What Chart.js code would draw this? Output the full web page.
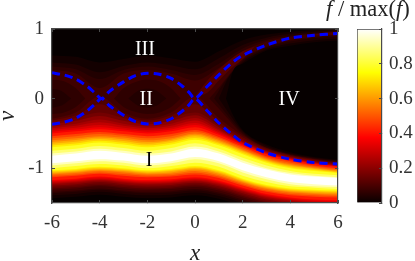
<!DOCTYPE html>
<html>
<head>
<meta charset="utf-8">
<style>
  html, body { margin: 0; padding: 0; background: #fff; }
  #wrap { position: relative; width: 415px; height: 261px; overflow: hidden; }
  canvas { position: absolute; left: 0; top: 0; }
</style>
<script src="https://cdn.jsdelivr.net/npm/chart.js@4/dist/chart.umd.min.js"></script>
</head>
<body>
<div id="wrap">
  <canvas id="phase" width="415" height="261"></canvas>
  <canvas id="bar" width="415" height="261"></canvas>
</div>
<script>
// --- Axis values ---
const xTicks = [-6, -4, -2, 0, 2, 4, 6];
const vTicks = [-1, 0, 1];
const barTicks = [0, 0.2, 0.4, 0.6, 0.8, 1];

// --- Contours of f at these x columns ---
const xCols = [-6, -5, -4, -3, -2, -1, 0, 1, 2, 3, 4, 5, 6];

// faint glow around the separatrix and band I
const top012 = [0.62, 0.6, 0.52, 0.57, 0.62, 0.58, 0.53, 0.68, 0.84, 0.92, 0.96, 0.99, 1.0];
const bot012 = [-1.43, -1.41, -1.38, -1.41, -1.43, -1.42, -1.39, -1.44, -1.54, -1.6, -1.6, -1.6, -1.6];
const top03 = [0.52, 0.49, 0.38, 0.47, 0.52, 0.48, 0.42, 0.58, 0.77, 0.875, 0.93, 0.96, 0.985];
const bot03 = [-1.39, -1.37, -1.34, -1.37, -1.39, -1.38, -1.35, -1.4, -1.5, -1.59, -1.6, -1.6, -1.6];
const top05 = [0.46, 0.42, 0.28, 0.41, 0.46, 0.41, 0.34, 0.5, 0.72, 0.845, 0.905, 0.94, 0.97];
const bot05 = [-1.36, -1.34, -1.31, -1.34, -1.36, -1.35, -1.32, -1.37, -1.47, -1.56, -1.6, -1.6, -1.6];
const top07 = [0.41, 0.36, 0.15, 0.36, 0.41, 0.36, 0.26, 0.44, 0.68, 0.82, 0.89, 0.93, 0.955];
const bot07 = [-1.34, -1.32, -1.29, -1.32, -1.34, -1.33, -1.3, -1.35, -1.45, -1.54, -1.6, -1.6, -1.6];

// band I, from its outer edge to the white core
const top10 = [-0.29, -0.2, 0.03, -0.2, -0.29, -0.2, 0.03, -0.28, -0.53, -0.71, -0.81, -0.87, -0.92];
const bot10 = [-1.31, -1.29, -1.26, -1.29, -1.31, -1.3, -1.27, -1.32, -1.42, -1.51, -1.56, -1.59, -1.6];
const top125 = [-0.315, -0.24, -0.08, -0.24, -0.315, -0.24, -0.08, -0.33, -0.555, -0.725, -0.82, -0.88, -0.93];
const bot125 = [-1.29, -1.27, -1.24, -1.27, -1.29, -1.28, -1.25, -1.3, -1.4, -1.49, -1.54, -1.57, -1.58];
const top15 = [-0.34, -0.28, -0.2, -0.28, -0.34, -0.28, -0.2, -0.38, -0.58, -0.74, -0.83, -0.89, -0.94];
const bot15 = [-1.27, -1.25, -1.22, -1.25, -1.27, -1.26, -1.23, -1.28, -1.38, -1.47, -1.52, -1.55, -1.56];
const top185 = [-0.37, -0.32, -0.25, -0.32, -0.37, -0.32, -0.24, -0.41, -0.6, -0.75, -0.84, -0.9, -0.95];
const bot185 = [-1.25, -1.23, -1.2, -1.23, -1.25, -1.24, -1.21, -1.26, -1.36, -1.45, -1.5, -1.53, -1.54];
const top22 = [-0.4, -0.36, -0.3, -0.36, -0.4, -0.36, -0.28, -0.44, -0.62, -0.76, -0.85, -0.91, -0.96];
const bot22 = [-1.23, -1.21, -1.18, -1.21, -1.23, -1.22, -1.19, -1.24, -1.34, -1.43, -1.48, -1.51, -1.52];
const top26 = [-0.425, -0.39, -0.34, -0.39, -0.425, -0.39, -0.315, -0.46, -0.63, -0.77, -0.857, -0.917, -0.965];
const bot26 = [-1.215, -1.195, -1.165, -1.195, -1.215, -1.205, -1.175, -1.225, -1.325, -1.415, -1.465, -1.495, -1.505];
const top30 = [-0.45, -0.42, -0.38, -0.42, -0.45, -0.42, -0.35, -0.48, -0.64, -0.78, -0.865, -0.925, -0.97];
const bot30 = [-1.2, -1.18, -1.15, -1.18, -1.2, -1.19, -1.16, -1.21, -1.31, -1.4, -1.45, -1.48, -1.49];
const top34 = [-0.475, -0.445, -0.41, -0.445, -0.475, -0.445, -0.38, -0.5, -0.655, -0.79, -0.872, -0.932, -0.975];
const bot34 = [-1.185, -1.165, -1.135, -1.165, -1.185, -1.175, -1.145, -1.195, -1.295, -1.385, -1.435, -1.465, -1.475];
const top375 = [-0.5, -0.47, -0.44, -0.47, -0.5, -0.47, -0.41, -0.52, -0.67, -0.8, -0.88, -0.94, -0.98];
const bot375 = [-1.17, -1.15, -1.12, -1.15, -1.17, -1.16, -1.13, -1.18, -1.28, -1.37, -1.42, -1.45, -1.46];
const top45 = [-0.54, -0.51, -0.48, -0.51, -0.54, -0.51, -0.45, -0.55, -0.69, -0.83, -0.9, -0.96, -1.0];
const bot45 = [-1.13, -1.11, -1.08, -1.11, -1.13, -1.12, -1.09, -1.14, -1.25, -1.34, -1.39, -1.41, -1.42];
const top50 = [-0.57, -0.54, -0.51, -0.535, -0.57, -0.54, -0.475, -0.57, -0.71, -0.845, -0.92, -0.975, -1.015];
const bot50 = [-1.11, -1.09, -1.06, -1.085, -1.11, -1.1, -1.065, -1.12, -1.23, -1.32, -1.37, -1.39, -1.4];
const top55 = [-0.6, -0.57, -0.54, -0.56, -0.6, -0.57, -0.5, -0.59, -0.73, -0.86, -0.94, -0.99, -1.03];
const bot55 = [-1.09, -1.07, -1.04, -1.06, -1.09, -1.08, -1.04, -1.1, -1.21, -1.3, -1.35, -1.37, -1.38];
const top60 = [-0.625, -0.595, -0.56, -0.585, -0.625, -0.59, -0.52, -0.61, -0.745, -0.875, -0.955, -1.0, -1.04];
const bot60 = [-1.075, -1.055, -1.025, -1.045, -1.075, -1.06, -1.02, -1.08, -1.195, -1.285, -1.335, -1.355, -1.365];
const top65 = [-0.65, -0.62, -0.58, -0.61, -0.65, -0.61, -0.54, -0.63, -0.76, -0.89, -0.97, -1.01, -1.05];
const bot65 = [-1.06, -1.04, -1.01, -1.03, -1.06, -1.04, -1.0, -1.06, -1.18, -1.27, -1.32, -1.34, -1.35];
const top70 = [-0.675, -0.645, -0.605, -0.635, -0.675, -0.635, -0.565, -0.65, -0.78, -0.905, -0.985, -1.025, -1.06];
const bot70 = [-1.045, -1.025, -0.995, -1.015, -1.045, -1.025, -0.985, -1.045, -1.165, -1.255, -1.305, -1.325, -1.335];
const top75 = [-0.7, -0.67, -0.63, -0.66, -0.7, -0.66, -0.59, -0.67, -0.8, -0.92, -1.0, -1.04, -1.07];
const bot75 = [-1.03, -1.01, -0.98, -1.0, -1.03, -1.01, -0.97, -1.03, -1.15, -1.24, -1.29, -1.31, -1.32];
const top82 = [-0.75, -0.72, -0.68, -0.71, -0.75, -0.71, -0.64, -0.72, -0.85, -0.96, -1.04, -1.08, -1.1];
const bot82 = [-1.0, -0.97, -0.94, -0.96, -1.0, -0.97, -0.92, -0.98, -1.11, -1.2, -1.26, -1.28, -1.3];
const top90 = [-0.79, -0.76, -0.72, -0.75, -0.79, -0.76, -0.69, -0.76, -0.89, -1.0, -1.07, -1.11, -1.13];
const bot90 = [-0.96, -0.93, -0.9, -0.92, -0.96, -0.93, -0.87, -0.93, -1.06, -1.16, -1.23, -1.26, -1.27];
const top97 = [-0.82, -0.79, -0.75, -0.78, -0.82, -0.79, -0.72, -0.79, -0.92, -1.02, -1.09, -1.12, -1.14];
const bot97 = [-0.93, -0.9, -0.87, -0.89, -0.93, -0.9, -0.84, -0.9, -1.03, -1.13, -1.2, -1.23, -1.25];

// region IV (f below each level)
const iv012X = [1.3, 1.6, 2, 3, 4, 5, 6];
const iv012Top = [0, 0.4, 0.5, 0.69, 0.76, 0.81, 0.83];
const iv012Bot = [0, -0.24, -0.45, -0.66, -0.77, -0.84, -0.88];
const iv03X = [1.0, 1.4, 2, 3, 4, 5, 6];
const iv03Top = [0, 0.3, 0.52, 0.71, 0.79, 0.84, 0.86];
const iv03Bot = [0, -0.2, -0.47, -0.68, -0.79, -0.85, -0.89];
const iv05X = [0.8, 1.2, 2, 3, 4, 5, 6];
const iv05Top = [0, 0.22, 0.54, 0.73, 0.82, 0.87, 0.89];
const iv05Bot = [0, -0.17, -0.49, -0.7, -0.8, -0.86, -0.9];
const iv07X = [0.6, 1.1, 2, 3, 4, 5, 6];
const iv07Top = [0, 0.2, 0.56, 0.745, 0.84, 0.885, 0.91];
const iv07Bot = [0, -0.18, -0.51, -0.71, -0.805, -0.865, -0.905];

// dark centres of the eyes in region II
const eyeMid05X = [-2.8, -2.4, -2, -1.6, -1.2];
const eyeMid05Top = [0, 0.11, 0.14, 0.11, 0];
const eyeMid05Bot = [0, -0.1, -0.13, -0.1, 0];
const eyeMid07X = [-3.4, -3, -2.4, -2, -1.5, -1, -0.6];
const eyeMid07Top = [0, 0.15, 0.25, 0.27, 0.25, 0.15, 0];
const eyeMid07Bot = [0, -0.12, -0.2, -0.22, -0.2, -0.12, 0];
const eyeLeft05X = [-6, -5.6, -5.2];
const eyeLeft05Top = [0.14, 0.11, 0];
const eyeLeft05Bot = [-0.13, -0.1, 0];
const eyeLeft07X = [-6, -5.5, -5, -4.6];
const eyeLeft07Top = [0.27, 0.25, 0.15, 0];
const eyeLeft07Bot = [-0.22, -0.2, -0.12, 0];

// brighter part of the upper branch
const ridgeX = [0, 0.5, 1, 1.5, 2, 2.5];
const ridgeTop = [0.03, 0.25, 0.42, 0.57, 0.68, 0.75];
const ridgeBot = [0.03, 0.08, 0.26, 0.43, 0.57, 0.75];
const ridgeEndX = [4.8, 5.4, 6];
const ridgeEndTop = [0.91, 0.945, 0.965];
const ridgeEndBot = [0.91, 0.915, 0.915];

// --- Separatrix (dashed) ---
const sepX = [-6, -5.5, -5, -4.5, -4.2, -3.92, -3.6, -3, -2.5, -2, -1.5, -1, -0.5, -0.25, 0, 0.5, 1, 1.5, 2, 3, 4, 5, 6];
const sepUpper = [0.37, 0.34, 0.28, 0.17, 0.08, 0, 0.1, 0.24, 0.33, 0.365, 0.35, 0.29, 0.17, 0.09, 0, 0.17, 0.34, 0.5, 0.62, 0.77, 0.87, 0.91, 0.935];
const sepLower = [-0.37, -0.34, -0.28, -0.17, -0.08, 0, -0.1, -0.24, -0.33, -0.365, -0.35, -0.29, -0.17, -0.09, 0, -0.17, -0.35, -0.5, -0.63, -0.78, -0.87, -0.92, -0.94];

// --- Region labels ---
const regionNames = ["I", "II", "III", "IV"];
const regionX = [-1.93, -2.05, -2.1, 3.95];
const regionV = [-0.89, -0.01, 0.7, -0.01];
const regionColors = ["#000", "#fff", "#fff", "#fff"];

// --- Colormap ---
const hotStops = [0, 0.375, 0.75, 1];
const hotColors = ["#060000", "#ff0000", "#ffff00", "#ffffff"];

function hot(f) {
  const r = Math.min(1, f / 0.375);
  const g = Math.max(0, Math.min(1, (f - 0.375) / 0.375));
  const b = Math.max(0, (f - 0.75) / 0.25);
  return `rgb(${Math.round(6 + 249 * r)},${Math.round(255 * g)},${Math.round(255 * b)})`;
}

const SERIF = "'Liberation Serif', serif";
const AXIS = "#4a4a4a";

// --- Filled contour bands ---
const datasets = [];

function addBand(xs, top, bot, color) {
  const i = datasets.length;
  const base = { pointRadius: 0, borderWidth: 0, cubicInterpolationMode: "monotone", order: 1000 - i };
  datasets.push({ ...base, data: xs.map((x, k) => ({ x, y: top[k] })), backgroundColor: color, fill: { target: i + 1 } });
  datasets.push({ ...base, data: xs.map((x, k) => ({ x, y: bot[k] })), fill: false });
}

addBand(xCols, top012, bot012, hot(0.02));
addBand(xCols, top03, bot03, hot(0.04));
addBand(xCols, top05, bot05, hot(0.06));
addBand(xCols, top07, bot07, hot(0.085));

// holes are painted largest first so the nesting stays right
addBand(iv07X, iv07Top, iv07Bot, hot(0.06));
addBand(eyeMid07X, eyeMid07Top, eyeMid07Bot, hot(0.06));
addBand(eyeLeft07X, eyeLeft07Top, eyeLeft07Bot, hot(0.06));
addBand(iv05X, iv05Top, iv05Bot, hot(0.04));
addBand(eyeMid05X, eyeMid05Top, eyeMid05Bot, hot(0.042));
addBand(eyeLeft05X, eyeLeft05Top, eyeLeft05Bot, hot(0.042));
addBand(iv03X, iv03Top, iv03Bot, hot(0.02));
addBand(iv012X, iv012Top, iv012Bot, hot(0));

addBand(ridgeX, ridgeTop, ridgeBot, hot(0.12));
addBand(ridgeEndX, ridgeEndTop, ridgeEndBot, hot(0.11));

addBand(xCols, top10, bot10, hot(0.11));
addBand(xCols, top125, bot125, hot(0.14));
addBand(xCols, top15, bot15, hot(0.165));
addBand(xCols, top185, bot185, hot(0.205));
addBand(xCols, top22, bot22, hot(0.24));
addBand(xCols, top26, bot26, hot(0.28));
addBand(xCols, top30, bot30, hot(0.32));
addBand(xCols, top34, bot34, hot(0.36));
addBand(xCols, top375, bot375, hot(0.41));
addBand(xCols, top45, bot45, hot(0.475));
addBand(xCols, top50, bot50, hot(0.525));
addBand(xCols, top55, bot55, hot(0.575));
addBand(xCols, top60, bot60, hot(0.625));
addBand(xCols, top65, bot65, hot(0.675));
addBand(xCols, top70, bot70, hot(0.725));
addBand(xCols, top75, bot75, hot(0.785));
addBand(xCols, top82, bot82, hot(0.86));
addBand(xCols, top90, bot90, hot(0.935));
addBand(xCols, top97, bot97, hot(1));

[sepUpper, sepLower].forEach((curve) => {
  datasets.push({
    data: sepX.map((x, k) => ({ x, y: curve[k] })),
    borderColor: "#0000ff",
    borderWidth: 3,
    borderDash: [8, 5],
    tension: 0.3,
    pointRadius: 0,
    fill: false,
    order: 0
  });
});

// --- Plugins ---
const plotBackground = {
  id: "plotBackground",
  beforeDatasetsDraw(chart) {
    const { ctx, chartArea: a } = chart;
    ctx.save();
    ctx.fillStyle = hot(0);
    ctx.fillRect(a.left, a.top, a.width, a.height);
    ctx.restore();
  }
};

const regionLabels = {
  id: "regionLabels",
  afterDatasetsDraw(chart) {
    const { ctx, scales } = chart;
    ctx.save();
    ctx.font = `20px ${SERIF}`;
    ctx.textAlign = "center";
    ctx.textBaseline = "middle";
    regionNames.forEach((name, i) => {
      ctx.fillStyle = regionColors[i];
      ctx.fillText(name, scales.x.getPixelForValue(regionX[i]), scales.y.getPixelForValue(regionV[i]));
    });
    ctx.restore();
  }
};

const barTitle = {
  id: "barTitle",
  afterDraw(chart) {
    const { ctx } = chart;
    const parts = [["f", "italic"], [" / max(", "normal"], ["f", "italic"], [")", "normal"]];
    ctx.save();
    ctx.fillStyle = "#222";
    ctx.textBaseline = "alphabetic";
    let px = 326;
    parts.forEach(([text, style]) => {
      ctx.font = `${style} 22.5px ${SERIF}`;
      ctx.fillText(text, px, 16);
      px += ctx.measureText(text).width;
    });
    ctx.restore();
  }
};

// --- Chart helpers ---
function frameAxis(position, extra) {
  return {
    type: "linear",
    position,
    grid: { drawOnChartArea: false, drawTicks: true, tickLength: -3, tickColor: AXIS, z: 1 },
    border: { color: AXIS, width: 1.2, z: 1 },
    ...extra
  };
}

function setTicks(values) {
  return (scale) => {
    scale.ticks = values.map((value) => ({ value }));
  };
}

const tickFont = { family: SERIF, size: 19 };
const TICK_COLOR = "#333";
const plainLabel = (value) => String(value);

// --- Phase space chart ---
new Chart(document.getElementById("phase"), {
  type: "line",
  data: { datasets },
  plugins: [plotBackground, regionLabels],
  options: {
    responsive: false,
    animation: false,
    events: [],
    layout: { padding: 0 },
    plugins: { legend: { display: false }, tooltip: { enabled: false } },
    scales: {
      x: frameAxis("bottom", {
        min: -6,
        max: 6,
        afterBuildTicks: setTicks(xTicks),
        afterFit: (s) => { s.height = 58; },
        ticks: { font: tickFont, color: TICK_COLOR, padding: 12, maxRotation: 0, autoSkip: false, callback: plainLabel },
        title: { display: true, text: "x", font: { family: SERIF, size: 23, style: "italic" }, color: "#222", padding: { top: 0, bottom: -7 } }
      }),
      y: frameAxis("left", {
        min: -1.5,
        max: 1,
        afterBuildTicks: setTicks(vTicks),
        afterFit: (s) => { s.width = 52; },
        ticks: { font: tickFont, color: TICK_COLOR, padding: 11, autoSkip: false, callback: plainLabel },
        title: { display: true, text: "v", font: { family: SERIF, size: 23, style: "italic" }, color: "#222", padding: { top: -6, bottom: 0 } }
      }),
      xTop: frameAxis("top", {
        min: -6,
        max: 6,
        afterBuildTicks: setTicks(xTicks),
        afterFit: (s) => { s.height = 29; },
        ticks: { display: false }
      }),
      yRight: frameAxis("right", {
        min: -1.5,
        max: 1,
        afterBuildTicks: setTicks(vTicks),
        afterFit: (s) => { s.width = 77; },
        ticks: { display: false }
      })
    }
  }
});

// --- Colorbar chart ---
new Chart(document.getElementById("bar"), {
  type: "bar",
  data: {
    labels: ["f"],
    datasets: [{
      data: [1],
      barPercentage: 1,
      categoryPercentage: 1,
      borderColor: AXIS,
      borderWidth: 1,
      backgroundColor(ctx) {
        const a = ctx.chart.chartArea;
        if (!a) return "#000";
        const grad = ctx.chart.ctx.createLinearGradient(0, a.bottom, 0, a.top);
        hotStops.forEach((stop, i) => grad.addColorStop(stop, hotColors[i]));
        return grad;
      }
    }]
  },
  plugins: [barTitle],
  options: {
    responsive: false,
    animation: false,
    events: [],
    layout: { padding: { left: 357, top: 29, bottom: 58 } },
    plugins: { legend: { display: false }, tooltip: { enabled: false } },
    scales: {
      x: { display: false },
      y: frameAxis("right", {
        min: 0,
        max: 1,
        afterBuildTicks: setTicks(barTicks),
        afterFit: (s) => { s.width = 33; },
        ticks: { font: tickFont, color: TICK_COLOR, padding: 10, autoSkip: false, callback: plainLabel }
      })
    }
  }
});
</script>
</body>
</html>
